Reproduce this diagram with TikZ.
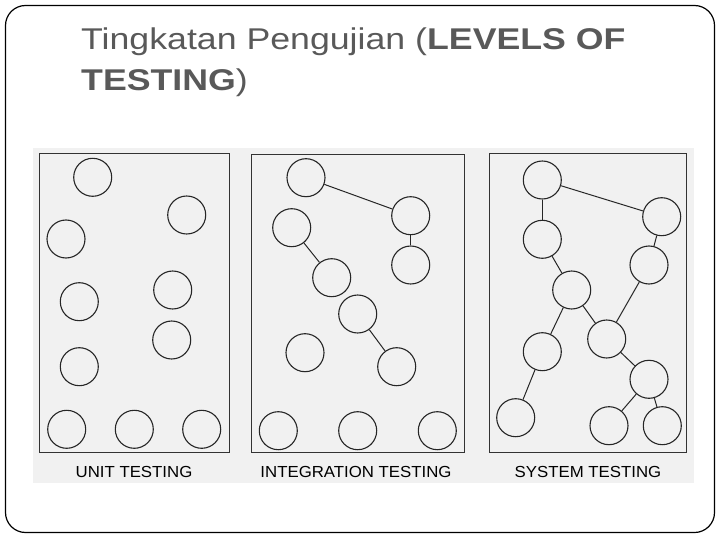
\documentclass[tikz,border=0pt]{standalone}
\usepackage{fontspec}
\setmainfont{Liberation Sans}
\definecolor{titlegray}{RGB}{89,89,89}
\definecolor{panelgray}{RGB}{241,241,241}
\begin{document}
\begin{tikzpicture}[x=1pt,y=-1pt,
        modul/.style={draw=black!85, line width=1.1pt, circle, minimum size=38pt, inner sep=0pt},
        kotak/.style={draw=black!80, line width=0.9pt},
        link/.style={draw=black!85, line width=1pt},
        label/.style={font=\fontsize{16}{18}\selectfont, anchor=base}]
        \useasboundingbox (0,0) rectangle (720,540);
        \draw[black, line width=1.2pt, rounded corners=20pt] (5.5,5.5) rectangle (714.5,532.5);
        \node[anchor=base west, text=titlegray, font=\fontsize{30}{36}\selectfont, inner sep=0pt] (title1) at (81,49.5) {\scalebox{1.19}[1]{Tingkatan Pengujian (\textbf{LEVELS OF}}};
        \node[anchor=base west, text=titlegray, font=\fontsize{30}{36}\selectfont, inner sep=0pt] (title2) at (81,91) {\scalebox{1.19}[1]{\textbf{TESTING})}};
        \fill[panelgray] (32.5,148) rectangle (693.5,483);
        % unit testing
        \draw[kotak] (39.5,153.5) rectangle (229,452);
        \node[modul] (u1) at (92.7,177.3) {};
        \node[modul] (u2) at (186.7,215) {};
        \node[modul] (u3) at (66,239) {};
        \node[modul] (u4) at (79.3,301.7) {};
        \node[modul] (u5) at (172.7,290) {};
        \node[modul] (u6) at (171.7,340) {};
        \node[modul] (u7) at (79.3,366.7) {};
        \node[modul] (u8) at (66.7,429.3) {};
        \node[modul] (u9) at (134.3,429.3) {};
        \node[modul] (u10) at (201.7,429.3) {};
        \node[label] (unit) at (134,477.5) {\scalebox{1.05}[1]{UNIT TESTING}};
        % integration testing
        \draw[kotak] (251,154) rectangle (464,452);
        \node[modul] (i1) at (306,177.7) {};
        \node[modul] (i2) at (410.7,215.7) {};
        \node[modul] (i3) at (291.7,227.7) {};
        \node[modul] (i4) at (410.7,265) {};
        \node[modul] (i5) at (331.7,277.7) {};
        \node[modul] (i6) at (357.7,314) {};
        \node[modul] (i7) at (305,352.7) {};
        \node[modul] (i8) at (396.7,366.7) {};
        \node[modul] (i9) at (278.3,430.7) {};
        \node[modul] (i10) at (357.7,430.7) {};
        \node[modul] (i11) at (437.3,430.7) {};
        \draw[link] (i1) -- (i2);
        \draw[link] (i2) -- (i4);
        \draw[link] (i3) -- (i5);
        \draw[link] (i6) -- (i8);
        \node[label] (integration) at (356,477.5) {\scalebox{1.05}[1]{INTEGRATION TESTING}};
        % system testing
        \draw[kotak] (489.5,153.5) rectangle (686.5,452);
        \node[modul] (s1) at (542.3,180) {};
        \node[modul] (s2) at (661.7,216.7) {};
        \node[modul] (s3) at (542.3,239.3) {};
        \node[modul] (s4) at (649,265) {};
        \node[modul] (s5) at (571.7,290) {};
        \node[modul] (s6) at (606.7,339) {};
        \node[modul] (s7) at (542.3,351.7) {};
        \node[modul] (s8) at (649,379.3) {};
        \node[modul] (s9) at (515.7,417.7) {};
        \node[modul] (s10) at (609,425.7) {};
        \node[modul] (s11) at (662.3,425.7) {};
        \draw[link] (s1) -- (s2);
        \draw[link] (s1) -- (s3);
        \draw[link] (s3) -- (s5);
        \draw[link] (s5) -- (s7);
        \draw[link] (s5) -- (s6);
        \draw[link] (s2) -- (s4);
        \draw[link] (s4) -- (s6);
        \draw[link] (s6) -- (s8);
        \draw[link] (s7) -- (s9);
        \draw[link] (s8) -- (s10);
        \draw[link] (s8) -- (s11);
        \node[label] (system) at (588,477.5) {\scalebox{1.05}[1]{SYSTEM TESTING}};
    \end{tikzpicture}
\end{document}
